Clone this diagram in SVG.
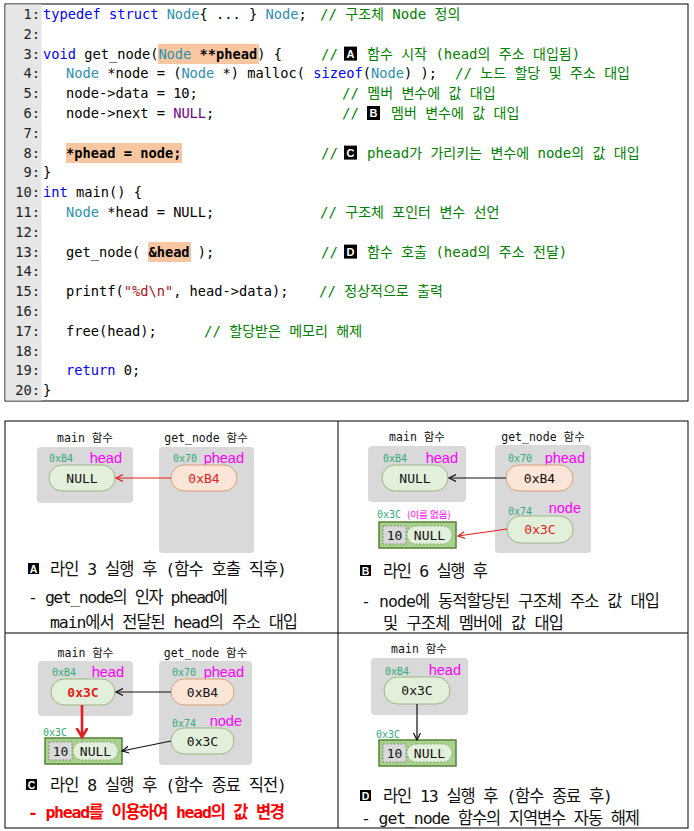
<svg xmlns="http://www.w3.org/2000/svg" width="694" height="831" viewBox="0 0 694 831">
<style>
.code{font-family:"DejaVu Sans Mono","Noto Sans CJK KR",monospace;font-size:13.7px;fill:#000;white-space:pre}
.cm{font-family:"DejaVu Sans Mono","Noto Sans CJK KR",monospace;font-size:14px;fill:#008000;white-space:pre}
.ln{font-family:"DejaVu Sans Mono",monospace;font-size:13.7px;fill:#222;text-anchor:end}
.kw{fill:#0000FF}.ty{fill:#2B91AF}.nl{fill:#6F008A}.st{fill:#A31515}.b{font-weight:bold}
.hl{fill:#F9C6A2}
.mk{fill:#000}
.mkt{font-family:"Liberation Sans",Arial,sans-serif;font-weight:bold;fill:#fff;text-anchor:middle}
.fbox{fill:#D9D9D9}
.flabel{font-family:"DejaVu Sans Mono","Noto Sans CJK KR",monospace;font-size:11.5px;fill:#111;text-anchor:middle}
.addr{font-family:"DejaVu Sans Mono",monospace;font-size:10px;fill:#33AA77}
.vname{font-family:"Liberation Sans","Noto Sans",sans-serif;font-size:14.5px;fill:#FF00FF;text-anchor:end}
.pg{fill:#E2EFDA;stroke:#9DB585;stroke-width:1}
.po{fill:#FBE5D6;stroke:#D9A07A;stroke-width:1}
.pt{font-family:"DejaVu Sans Mono",monospace;font-size:13px;fill:#111;text-anchor:middle}
.red{fill:#E41E1E}
.sbox{fill:#A9D18E;stroke:#548235;stroke-width:1.5}
.scell{fill:#D9D9D9;stroke:#7F7F7F;stroke-width:0.8;stroke-dasharray:2 1.5}
.spill{fill:#E2EFDA;stroke:#7F9F6F;stroke-width:0.8;stroke-dasharray:2 1.5}
.cap{font-family:"DejaVu Sans Mono","Noto Sans CJK KR",monospace;font-size:16.5px;fill:#111}
.arr-r{stroke:#E41E1E;stroke-width:1.2;fill:none}
.arr-k{stroke:#111;stroke-width:1.2;fill:none}
.arr-R{stroke:#E41E1E;stroke-width:2.6;fill:none}
</style>
<defs>
<marker id="ahr" markerUnits="userSpaceOnUse" markerWidth="10" markerHeight="10" refX="7" refY="4" orient="auto"><path d="M0,0.5 L7,4 L0,7.5" fill="none" stroke="#E41E1E" stroke-width="1.2"/></marker>
<marker id="ahk" markerUnits="userSpaceOnUse" markerWidth="10" markerHeight="10" refX="7" refY="4" orient="auto"><path d="M0,0.5 L7,4 L0,7.5" fill="none" stroke="#111" stroke-width="1.2"/></marker>
<marker id="ahR" markerUnits="userSpaceOnUse" markerWidth="14" markerHeight="14" refX="9" refY="6" orient="auto"><path d="M0,0.5 L9,6 L0,11.5" fill="none" stroke="#E41E1E" stroke-width="2.6"/></marker>
<g id="struct">
<rect class="sbox" x="0" y="0" width="77" height="26"/>
<rect class="scell" x="4" y="4" width="23" height="18"/>
<rect class="spill" x="28" y="4" width="45" height="18" rx="9"/>
<text class="pt" x="15.5" y="17.5">10</text>
<text class="pt" x="50.5" y="17.5">NULL</text>
</g>
</defs>

<!-- Code listing -->
<g id="code" xml:space="preserve">
<rect x="5" y="4" width="683" height="397" fill="#fff" stroke="#000" stroke-width="1"/>
<rect x="5.5" y="4.5" width="36" height="396" fill="#E6E6E6"/>
<rect class="hl" x="158" y="44" width="101" height="20"/>
<rect class="hl" x="66" y="143" width="116" height="20"/>
<rect class="hl" x="148" y="242" width="43" height="20"/>
<text class="ln" x="40" y="19">1:</text>
<text class="ln" x="40" y="38.8">2:</text>
<text class="ln" x="40" y="58.6">3:</text>
<text class="ln" x="40" y="78.4">4:</text>
<text class="ln" x="40" y="98.2">5:</text>
<text class="ln" x="40" y="118">6:</text>
<text class="ln" x="40" y="137.8">7:</text>
<text class="ln" x="40" y="157.6">8:</text>
<text class="ln" x="40" y="177.4">9:</text>
<text class="ln" x="40" y="197.2">10:</text>
<text class="ln" x="40" y="217">11:</text>
<text class="ln" x="40" y="236.8">12:</text>
<text class="ln" x="40" y="256.6">13:</text>
<text class="ln" x="40" y="276.4">14:</text>
<text class="ln" x="40" y="296.2">15:</text>
<text class="ln" x="40" y="316">16:</text>
<text class="ln" x="40" y="335.8">17:</text>
<text class="ln" x="40" y="355.6">18:</text>
<text class="ln" x="40" y="375.4">19:</text>
<text class="ln" x="40" y="395.2">20:</text>

<text class="code" x="43" y="19"><tspan class="kw">typedef struct</tspan> <tspan class="ty">Node</tspan>{ ... } <tspan class="ty">Node</tspan>;</text>
<text class="cm" x="320" y="19">// 구조체 Node 정의</text>

<text class="code" x="43" y="58.6"><tspan class="kw">void</tspan> get_node(<tspan class="ty">Node</tspan> <tspan class="b">**phead</tspan>) {</text>
<text class="cm" x="321" y="58.6">//</text>
<rect class="mk" x="344" y="46.6" width="13" height="14"/>
<text class="mkt" x="350.5" y="58" font-size="11">A</text>
<text class="cm" x="367" y="58.6">함수 시작 (head의 주소 대입됨)</text>

<text class="code" x="66" y="78.4"><tspan class="ty">Node</tspan> *node = (<tspan class="ty">Node</tspan> *) malloc( <tspan class="kw">sizeof</tspan>(<tspan class="ty">Node</tspan>) );</text>
<text class="cm" x="455" y="78.4">// 노드 할당 및 주소 대입</text>

<text class="code" x="66" y="98.2">node-&gt;data = 10;</text>
<text class="cm" x="342" y="98.2">// 멤버 변수에 값 대입</text>

<text class="code" x="66" y="118">node-&gt;next = <tspan class="nl">NULL</tspan>;</text>
<text class="cm" x="342" y="118">//</text>
<rect class="mk" x="367" y="106" width="13" height="14"/>
<text class="mkt" x="373.5" y="117.4" font-size="11">B</text>
<text class="cm" x="391" y="118">멤버 변수에 값 대입</text>

<text class="code b" x="66" y="157.6">*phead = node;</text>
<text class="cm" x="321" y="157.6">//</text>
<rect class="mk" x="344" y="145.6" width="13" height="14"/>
<text class="mkt" x="350.5" y="157" font-size="11">C</text>
<text class="cm" x="367" y="157.6">phead가 가리키는 변수에 node의 값 대입</text>

<text class="code" x="43" y="177.4">}</text>
<text class="code" x="43" y="197.2"><tspan class="kw">int</tspan> main() {</text>

<text class="code" x="66" y="217"><tspan class="ty">Node</tspan> *head = NULL;</text>
<text class="cm" x="320" y="217">// 구조체 포인터 변수 선언</text>

<text class="code" x="66" y="256.6">get_node( <tspan class="b">&amp;head</tspan> );</text>
<text class="cm" x="321" y="256.6">//</text>
<rect class="mk" x="344" y="244.6" width="13" height="14"/>
<text class="mkt" x="350.5" y="256" font-size="11">D</text>
<text class="cm" x="367" y="256.6">함수 호출 (head의 주소 전달)</text>

<text class="code" x="66" y="296.2">printf(<tspan class="st">"%d\n"</tspan>, head-&gt;data);</text>
<text class="cm" x="319" y="296.2">// 정상적으로 출력</text>

<text class="code" x="66" y="335.8">free(head);</text>
<text class="cm" x="204" y="335.8">// 할당받은 메모리 해제</text>

<text class="code" x="66" y="375.4"><tspan class="kw">return</tspan> 0;</text>
<text class="code" x="43" y="395.2">}</text>
</g>

<!-- Table frame -->
<g id="table" fill="none" stroke="#000" stroke-width="1">
<rect x="5" y="421" width="683" height="407"/>
<line x1="338" y1="421" x2="338" y2="828"/>
<line x1="5" y1="633" x2="688" y2="633"/>
</g>

<!-- Panel A -->
<g id="A-main">
<text class="flabel" x="85" y="442">main 함수</text>
<rect class="fbox" x="37" y="447" width="96" height="56" rx="4"/>
<text class="addr" x="49" y="462">0xB4</text>
<text class="vname" x="122" y="463">head</text>
<rect class="pg" x="49" y="465" width="66" height="26" rx="13"/>
<text class="pt" x="82" y="482.5">NULL</text>
</g>
<g id="A-getnode">
<text class="flabel" x="206" y="442">get_node 함수</text>
<rect class="fbox" x="159" y="447" width="95" height="106" rx="4"/>
<text class="addr" x="173" y="462">0x70</text>
<text class="vname" x="244" y="463">phead</text>
<rect class="po" x="171" y="465" width="66" height="26" rx="13"/>
<text class="pt red" x="204" y="482.5">0xB4</text>
</g>
<g id="A-caption">
<rect class="mk" x="28" y="563" width="11" height="11"/>
<text class="mkt" x="33.5" y="572.5" font-size="10.5">A</text>
<text class="cap" x="50" y="575" textLength="237" lengthAdjust="spacing">라인 3 실행 후 (함수 호출 직후)</text>
<text class="cap" x="28" y="603" textLength="200" lengthAdjust="spacing">- get_node의 인자 phead에</text>
<text class="cap" x="50" y="628" textLength="248" lengthAdjust="spacing">main에서 전달된 head의 주소 대입</text>
</g>

<!-- Panel B -->
<g id="B-main">
<text class="flabel" x="417" y="441">main 함수</text>
<rect class="fbox" x="368" y="446" width="98" height="56" rx="4"/>
<text class="addr" x="383" y="462">0xB4</text>
<text class="vname" x="458" y="463">head</text>
<rect class="pg" x="382" y="465" width="66" height="26" rx="13"/>
<text class="pt" x="415" y="482.5">NULL</text>
</g>
<g id="B-getnode">
<text class="flabel" x="543" y="441">get_node 함수</text>
<rect class="fbox" x="495" y="445" width="96" height="108" rx="4"/>
<text class="addr" x="508" y="462">0x70</text>
<text class="vname" x="585" y="463">phead</text>
<rect class="po" x="506" y="465" width="67" height="26" rx="13"/>
<text class="pt" x="539.5" y="482.5">0xB4</text>
<text class="addr" x="508" y="515">0x74</text>
<text class="vname" x="581" y="513">node</text>
<rect class="pg" x="507" y="516" width="66" height="27" rx="13.5"/>
<text class="pt red" x="540" y="534">0x3C</text>
</g>
<g id="B-struct">
<text class="addr" x="377" y="518">0x3C <tspan fill="#FF00FF" font-family="Noto Sans CJK KR, sans-serif" font-size="9.5">(이름 없음)</tspan></text>
<use href="#struct" x="379" y="522"/>
</g>
<g id="B-caption">
<rect class="mk" x="360" y="565" width="11" height="11"/>
<text class="mkt" x="365.5" y="574.5" font-size="10.5">B</text>
<text class="cap" x="383" y="577" textLength="105" lengthAdjust="spacing">라인 6 실행 후</text>
<text class="cap" x="361" y="607" textLength="299" lengthAdjust="spacing">- node에 동적할당된 구조체 주소 값 대입</text>
<text class="cap" x="383" y="629" textLength="181" lengthAdjust="spacing">및 구조체 멤버에 값 대입</text>
</g>

<!-- Panel C -->
<g id="C-main">
<text class="flabel" x="85.5" y="657">main 함수</text>
<rect class="fbox" x="38" y="661" width="95" height="55" rx="4"/>
<text class="addr" x="52" y="676">0xB4</text>
<text class="vname" x="124" y="677">head</text>
<rect class="pg" x="51" y="679" width="64" height="26" rx="13"/>
<text class="pt red b" x="83" y="696.5">0x3C</text>
</g>
<g id="C-getnode">
<text class="flabel" x="205.5" y="657">get_node 함수</text>
<rect class="fbox" x="159" y="661" width="93" height="104" rx="4"/>
<text class="addr" x="172" y="676">0x70</text>
<text class="vname" x="244" y="677">phead</text>
<rect class="po" x="171" y="679" width="63" height="26" rx="13"/>
<text class="pt" x="202.5" y="696.5">0xB4</text>
<text class="addr" x="172" y="727">0x74</text>
<text class="vname" x="242" y="726">node</text>
<rect class="pg" x="171" y="728" width="63" height="26" rx="13"/>
<text class="pt" x="202.5" y="745.5">0x3C</text>
</g>
<g id="C-struct">
<text class="addr" x="43" y="736">0x3C</text>
<use href="#struct" x="45" y="738"/>
</g>
<g id="C-caption">
<rect class="mk" x="26" y="779" width="11" height="11"/>
<text class="mkt" x="31.5" y="788.5" font-size="10.5">C</text>
<text class="cap" x="50" y="791" textLength="237" lengthAdjust="spacing">라인 8 실행 후 (함수 종료 직전)</text>
<text class="cap b" x="28" y="818" textLength="257" lengthAdjust="spacing" style="fill:#FF0000">- phead를 이용하여 head의 값 변경</text>
</g>

<!-- Panel D -->
<g id="D-main">
<text class="flabel" x="419" y="653">main 함수</text>
<rect class="fbox" x="371" y="658" width="97" height="57" rx="4"/>
<text class="addr" x="385" y="675">0xB4</text>
<text class="vname" x="461" y="675">head</text>
<rect class="pg" x="384" y="677" width="66" height="27" rx="13.5"/>
<text class="pt" x="417" y="695">0x3C</text>
</g>
<g id="D-struct">
<text class="addr" x="376" y="738">0x3C</text>
<use href="#struct" x="379" y="740"/>
</g>
<g id="D-caption">
<rect class="mk" x="360" y="790" width="11" height="11"/>
<text class="mkt" x="365.5" y="799.5" font-size="10.5">D</text>
<text class="cap" x="383" y="802" textLength="230" lengthAdjust="spacing">라인 13 실행 후 (함수 종료 후)</text>
<text class="cap" x="361" y="824" textLength="279" lengthAdjust="spacing">- get_node 함수의 지역변수 자동 해제</text>
</g>

<!-- Connectors -->
<g id="connectors">
<line class="arr-r" x1="171" y1="478" x2="116" y2="478" marker-end="url(#ahr)"/>
<line class="arr-k" x1="506" y1="478" x2="449" y2="478" marker-end="url(#ahk)"/>
<line class="arr-r" x1="507" y1="529" x2="458" y2="536" marker-end="url(#ahr)"/>
<line class="arr-k" x1="171" y1="692" x2="116" y2="692" marker-end="url(#ahk)"/>
<line class="arr-k" x1="171" y1="741" x2="122" y2="751" marker-end="url(#ahk)"/>
<line class="arr-R" x1="82" y1="705" x2="82" y2="737" marker-end="url(#ahR)"/>
<line class="arr-k" x1="417" y1="704" x2="417" y2="740" marker-end="url(#ahk)"/>
</g>
</svg>
